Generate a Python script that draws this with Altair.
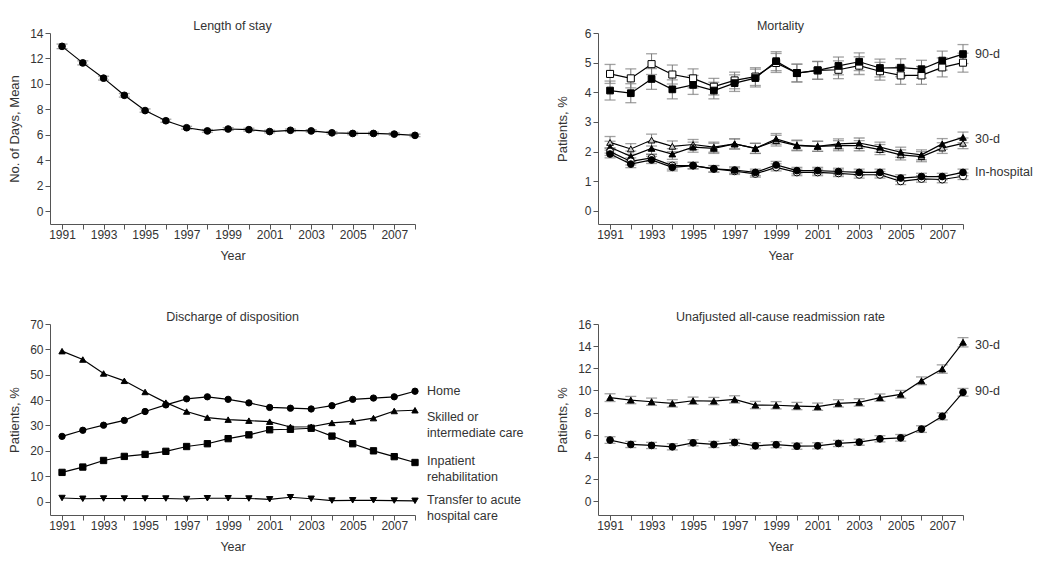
import altair as alt
import pandas as pd

years = list(range(1991, 2009))

# ---- Length of stay ----
los_mean = [12.95, 11.65, 10.45, 9.10, 7.90, 7.10, 6.55, 6.30, 6.45, 6.40, 6.25, 6.35, 6.30, 6.15, 6.10, 6.10, 6.05, 5.95]
los_err = [0.18, 0.16, 0.15, 0.14, 0.13, 0.12, 0.11, 0.11, 0.11, 0.11, 0.10, 0.10, 0.10, 0.10, 0.10, 0.10, 0.10, 0.10]

# ---- Mortality ----
mort90_filled = [4.06, 3.97, 4.45, 4.10, 4.25, 4.06, 4.31, 4.48, 5.05, 4.65, 4.74, 4.89, 5.03, 4.82, 4.83, 4.78, 5.07, 5.29]
mort90_open = [4.62, 4.47, 4.95, 4.60, 4.47, 4.19, 4.40, 4.53, 4.99, 4.65, 4.74, 4.76, 4.90, 4.71, 4.57, 4.57, 4.84, 5.00]
mort90_err = [0.32, 0.32, 0.35, 0.32, 0.32, 0.28, 0.28, 0.30, 0.32, 0.30, 0.30, 0.30, 0.30, 0.30, 0.30, 0.30, 0.32, 0.32]
mort30_filled = [2.15, 1.84, 2.11, 1.92, 2.15, 2.11, 2.26, 2.11, 2.43, 2.22, 2.18, 2.26, 2.29, 2.15, 1.98, 1.89, 2.26, 2.48]
mort30_open = [2.31, 2.09, 2.39, 2.18, 2.24, 2.15, 2.26, 2.11, 2.37, 2.20, 2.18, 2.20, 2.20, 2.07, 1.89, 1.83, 2.12, 2.28]
mort30_err = [0.20, 0.18, 0.20, 0.18, 0.17, 0.17, 0.17, 0.17, 0.18, 0.17, 0.17, 0.17, 0.17, 0.17, 0.17, 0.17, 0.18, 0.18]
morthosp_filled = [1.92, 1.58, 1.72, 1.47, 1.53, 1.42, 1.38, 1.30, 1.55, 1.36, 1.36, 1.33, 1.30, 1.30, 1.11, 1.16, 1.16, 1.30]
morthosp_open = [2.00, 1.67, 1.79, 1.53, 1.53, 1.42, 1.34, 1.25, 1.47, 1.30, 1.30, 1.27, 1.22, 1.22, 1.00, 1.08, 1.06, 1.17]
morthosp_err = [0.13, 0.12, 0.12, 0.12, 0.11, 0.11, 0.11, 0.11, 0.12, 0.11, 0.11, 0.11, 0.11, 0.11, 0.11, 0.11, 0.11, 0.11]

# ---- Discharge disposition ----
dis_home = [25.7, 28.1, 30.1, 32.0, 35.5, 38.1, 40.5, 41.3, 40.3, 38.9, 37.1, 36.8, 36.5, 37.8, 40.3, 40.8, 41.3, 43.5]
dis_skilled = [59.3, 56.0, 50.5, 47.6, 43.2, 39.0, 35.5, 33.1, 32.3, 31.9, 31.5, 29.4, 29.5, 31.0, 31.6, 32.9, 35.7, 36.0]
dis_rehab = [11.5, 13.6, 16.2, 17.8, 18.6, 19.8, 21.7, 22.8, 24.8, 26.3, 28.3, 28.5, 28.9, 25.8, 22.8, 20.0, 17.7, 15.4]
dis_transfer = [1.4, 1.1, 1.2, 1.2, 1.2, 1.2, 1.0, 1.3, 1.3, 1.2, 0.9, 1.7, 1.1, 0.4, 0.5, 0.5, 0.4, 0.3]

# ---- Readmission ----
readm30 = [9.35, 9.13, 8.98, 8.83, 9.07, 9.04, 9.19, 8.68, 8.66, 8.59, 8.53, 8.83, 8.92, 9.35, 9.65, 10.87, 11.93, 14.35]
readm30_err = [0.35, 0.33, 0.33, 0.33, 0.33, 0.33, 0.33, 0.33, 0.33, 0.33, 0.33, 0.33, 0.33, 0.33, 0.35, 0.35, 0.38, 0.42]
readm90 = [5.52, 5.12, 5.03, 4.91, 5.27, 5.12, 5.30, 5.00, 5.10, 4.97, 5.00, 5.21, 5.33, 5.63, 5.72, 6.51, 7.66, 9.83]
readm90_err = [0.30, 0.28, 0.28, 0.28, 0.28, 0.28, 0.28, 0.28, 0.28, 0.28, 0.28, 0.28, 0.28, 0.28, 0.30, 0.30, 0.32, 0.35]

FONT = "Liberation Sans"
TXT = "#333333"
AX = "#555555"
ERR = "#7a7a7a"
W, H = 365, 191
XDOM = [1990.42, 2008]


def frame(name, vals, errs, shape, fill, size):
    rows = []
    for i, yr in enumerate(years):
        e = errs[i] if errs is not None else 0.0
        rows.append(dict(year=yr, value=vals[i], lo=vals[i] - e, hi=vals[i] + e,
                         series=name, shape=shape, fill=fill, size=size))
    return pd.DataFrame(rows)


xaxis = alt.Axis(values=years, format="d",
                 labelExpr="datum.value % 2 == 1 ? datum.label : ''",
                 title="Year", grid=False, tickSize=5, labelPadding=0,
                 titlePadding=9, labelFontSize=12, titleFontSize=12.5,
                 labelFlush=False, labelOverlap=False)


def panel(df, ydom, yticks, ytitle, title, labels, has_err=True):
    x = alt.X("year:Q", scale=alt.Scale(domain=XDOM, nice=False, zero=False), axis=xaxis)
    ysc = alt.Scale(domain=ydom, nice=False, zero=False)
    yax = alt.Axis(values=yticks, title=ytitle, grid=False, tickSize=5,
                   labelPadding=2, minExtent=21, maxExtent=21, titlePadding=8,
                   labelFontSize=12, titleFontSize=13)
    base = alt.Chart(df)
    layers = []
    if has_err:
        layers.append(base.mark_rule(color=ERR, strokeWidth=1).encode(
            x=x, y=alt.Y("lo:Q", scale=ysc, axis=yax), y2="hi:Q", detail="series:N"))
        layers.append(base.mark_tick(color=ERR, orient="horizontal", size=11, thickness=1.3).encode(
            x=x, y=alt.Y("lo:Q", scale=ysc, axis=yax)))
        layers.append(base.mark_tick(color=ERR, orient="horizontal", size=11, thickness=1.3).encode(
            x=x, y=alt.Y("hi:Q", scale=ysc, axis=yax)))
    layers.append(base.mark_line(color="black", strokeWidth=1.2).encode(
        x=x, y=alt.Y("value:Q", scale=ysc, axis=yax), detail="series:N"))
    layers.append(base.mark_point(opacity=1, fillOpacity=1, stroke="black", strokeWidth=1).encode(
        x=x, y=alt.Y("value:Q", scale=ysc, axis=yax),
        shape=alt.Shape("shape:N", scale=None),
        fill=alt.Fill("fill:N", scale=None),
        size=alt.Size("size:Q", scale=None)))
    for txt, anchor, dy in labels:
        ld = pd.DataFrame({"year": [years[-1]], "value": [anchor], "label": [txt]})
        layers.append(alt.Chart(ld).mark_text(
            align="left", baseline="middle", dx=12, dy=dy, fontSize=12.5, font=FONT,
            color=TXT, lineBreak="\n", lineHeight=16).encode(
            x=x, y=alt.Y("value:Q", scale=ysc, axis=yax), text="label:N"))
    return alt.layer(*layers).properties(
        width=W, height=H,
        title=alt.TitleParams(title, fontSize=12.5, font=FONT, fontWeight="normal",
                              color=TXT, offset=-5, frame="group"))


df1 = frame("los", los_mean, los_err, "circle", "black", 45)
p1 = panel(df1, [-1.02, 14], list(range(0, 15, 2)), "No. of Days, Mean", "Length of stay", [])

df2 = pd.concat([
    frame("m90o", mort90_open, mort90_err, "square", "white", 50),
    frame("m90f", mort90_filled, mort90_err, "square", "black", 45),
    frame("m30o", mort30_open, mort30_err, "triangle-up", "#c8c8c8", 45),
    frame("m30f", mort30_filled, mort30_err, "triangle-up", "black", 45),
    frame("mho", morthosp_open, morthosp_err, "circle", "white", 50),
    frame("mhf", morthosp_filled, morthosp_err, "circle", "black", 45),
])
p2 = panel(df2, [-0.44, 6], list(range(0, 7)), "Patients, %", "Mortality",
           [("90-d", mort90_filled[-1], 0), ("30-d", mort30_filled[-1], 2),
            ("In-hospital", morthosp_filled[-1], 0)])

df3 = pd.concat([
    frame("home", dis_home, None, "circle", "black", 40),
    frame("skilled", dis_skilled, None, "triangle-up", "black", 40),
    frame("rehab", dis_rehab, None, "square", "black", 40),
    frame("transfer", dis_transfer, None, "triangle-down", "black", 40),
])
p3 = panel(df3, [-5.3, 70], list(range(0, 71, 10)), "Patients, %", "Discharge of disposition",
           [("Home", dis_home[-1], 0),
            ("Skilled or\nintermediate care", dis_skilled[-1], 7),
            ("Inpatient\nrehabilitation", dis_rehab[-1], -1),
            ("Transfer to acute\nhospital care", dis_transfer[-1], -1)],
           has_err=False)

df4 = pd.concat([
    frame("r30", readm30, readm30_err, "triangle-up", "black", 45),
    frame("r90", readm90, readm90_err, "circle", "black", 45),
])
p4 = panel(df4, [-1.25, 16], list(range(0, 17, 2)), "Patients, %",
           "Unafjusted all-cause readmission rate",
           [("30-d", readm30[-1], 3), ("90-d", readm90[-1], -1)])

chart = alt.concat(p1, p2, p3, p4, columns=2, spacing={"row": 100, "column": 183},
                   bounds="flush").properties(
    padding={"left": 0, "top": 11, "right": 5, "bottom": 5}
).configure_view(stroke=None).configure_axis(
    domainColor=AX, tickColor=AX, labelColor=TXT, titleColor=TXT,
    labelFont=FONT, titleFont=FONT, titleFontWeight="normal", domainWidth=1, tickWidth=1
)

chart.save("out.html", embed_options={"renderer": "svg", "actions": False})
